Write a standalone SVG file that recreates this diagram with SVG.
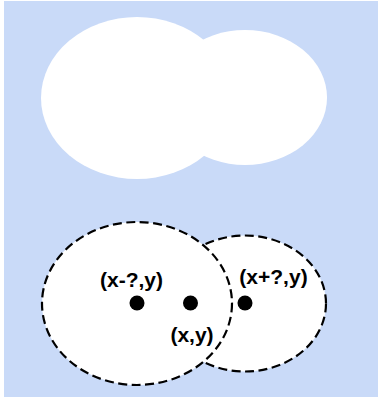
<svg xmlns="http://www.w3.org/2000/svg" width="378" height="397" viewBox="0 0 378 397">
<style>
.blob{fill:#ffffff;stroke:none}
.dash{fill:#ffffff;stroke:#000000;stroke-width:2.2;stroke-dasharray:9 4.5}
.dot{fill:#000000}
.lbl{font-family:"Liberation Sans",Arial,sans-serif;font-weight:bold;font-size:21px;fill:#000000;text-anchor:middle}
</style>
<rect x="4" y="1" width="374" height="396" fill="#c9daf8"/>
<g id="top-shape">
<ellipse class="blob" cx="245" cy="97.5" rx="82" ry="67.5"/>
<ellipse class="blob" cx="137" cy="98" rx="96" ry="81"/>
</g>
<g id="bottom-shape">
<ellipse class="dash" cx="245" cy="303.5" rx="81" ry="68"/>
<ellipse class="dash" cx="137" cy="303.5" rx="95" ry="81.5"/>
</g>
<g id="point-left">
<circle class="dot" cx="137" cy="303" r="7.5"/>
<text class="lbl" x="131.5" y="287">(x-?,y)</text>
</g>
<g id="point-center">
<circle class="dot" cx="190.5" cy="303" r="7.5"/>
<text class="lbl" x="192" y="342">(x,y)</text>
</g>
<g id="point-right">
<circle class="dot" cx="245" cy="303" r="7.5"/>
<text class="lbl" x="273.5" y="284">(x+?,y)</text>
</g>
<g id="connectors"/>
</svg>
